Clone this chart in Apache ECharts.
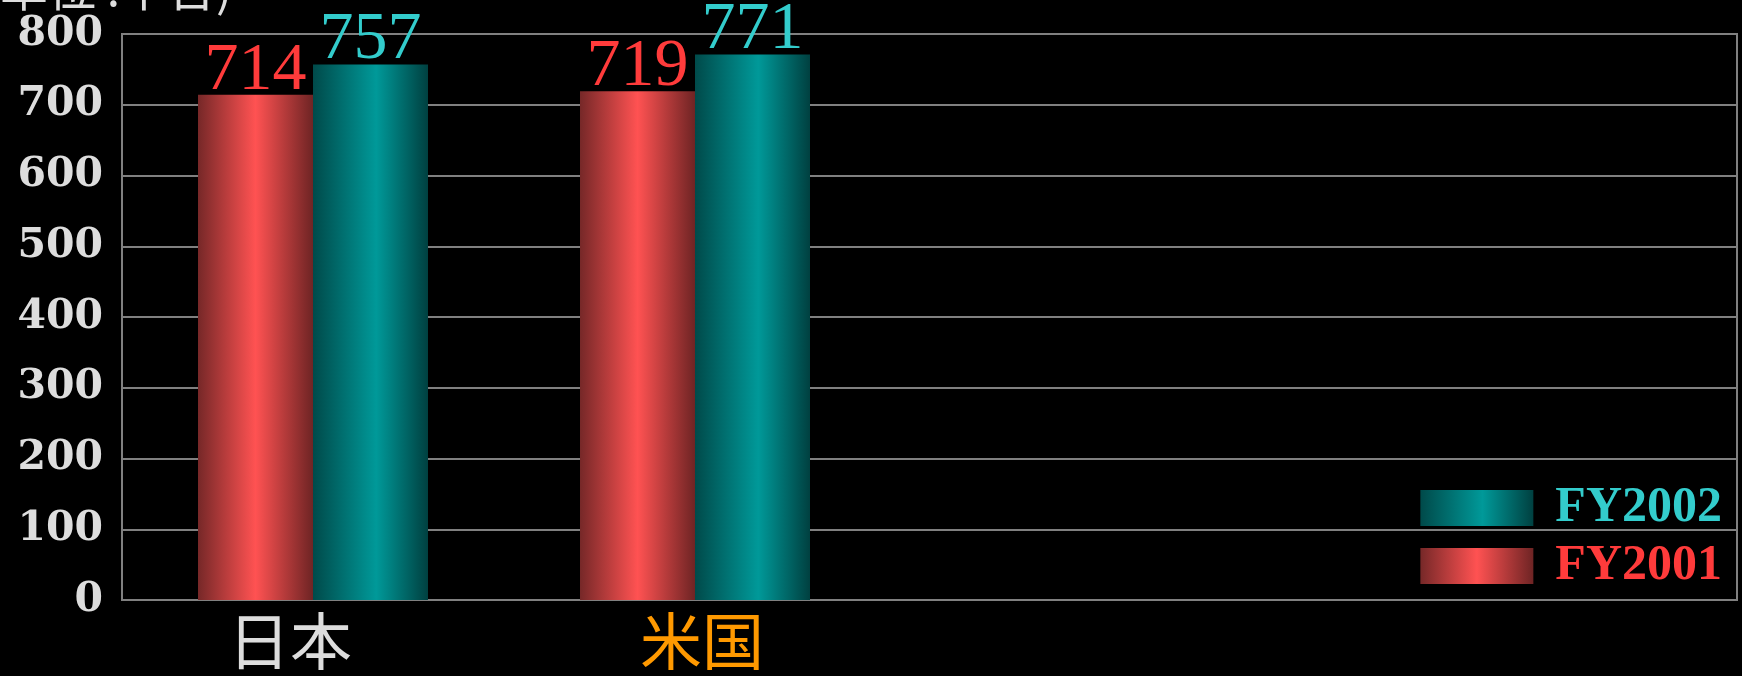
<!DOCTYPE html>
<html>
<head>
<meta charset="utf-8">
<script src="https://cdn.jsdelivr.net/npm/echarts@6/dist/echarts.min.js"></script>
<style>
  html, body { margin: 0; padding: 0; background: #000; }
  #chart { width: 1742px; height: 676px; }
</style>
</head>
<body>
<div id="chart"></div>
<script>
  // data
  const categories = ['日本', '米国', '', ''];
  const categoryColors = ['#dddddd', '#ff9900', '#dddddd', '#dddddd'];
  const categoryShift = [[0, 46, 0, 0], [0, 0, 0, 14], 0, 0]; // nudge labels like the original
  const fy2001 = [714, 719];
  const fy2002 = [757, 771];
  const seriesNames = ['FY2001', 'FY2002'];
  const yTicks = [0, 100, 200, 300, 400, 500, 600, 700, 800];

  const redGrad = new echarts.graphic.LinearGradient(0, 0, 1, 0, [
    { offset: 0, color: '#762828' },
    { offset: 0.5, color: '#ff5252' },
    { offset: 1, color: '#6e2424' }
  ]);
  const tealGrad = new echarts.graphic.LinearGradient(0, 0, 1, 0, [
    { offset: 0, color: '#004a4a' },
    { offset: 0.55, color: '#009999' },
    { offset: 1, color: '#004040' }
  ]);

  const chart = echarts.init(document.getElementById('chart'));

  const valueLabel = (color) => ({
    show: true,
    position: 'top',
    distance: -10,
    color: color,
    fontSize: 68,
    fontFamily: 'Liberation Serif'
  });

  const option = {
    backgroundColor: '#000',
    animation: false,
    graphic: [{
      type: 'text',
      left: 0,
      top: -36,
      style: {
        text: '単位 :千台)',
        fill: '#dddddd',
        font: '48px "Noto Sans CJK JP"'
      }
    }],
    legend: {
      orient: 'vertical',
      right: 15,
      top: 478,
      itemWidth: 113,
      itemHeight: 36,
      itemGap: 8,
      icon: 'rect',
      data: ['FY2002', 'FY2001'],
      formatter: (name) => name === 'FY2002' ? '{t|' + name + '}' : '{r|' + name + '}',
      textStyle: {
        padding: [0, 0, 0, 17],
        rich: {
          t: { color: '#33cccc', fontSize: 50, lineHeight: 54, fontFamily: 'Liberation Serif', fontWeight: 'bold' },
          r: { color: '#ff3b3b', fontSize: 50, lineHeight: 54, fontFamily: 'Liberation Serif', fontWeight: 'bold' }
        }
      }
    },
    grid: [
      { left: 122, right: 5, top: 34, bottom: 76, show: true, borderColor: '#808080', borderWidth: 2 },
      { left: 122, width: 1528, top: 34, bottom: 76 }
    ],
    xAxis: [
      { gridIndex: 0, type: 'value', show: false, min: 0, max: 1 },
      {
        gridIndex: 1,
        type: 'category',
        data: categories.map((c, i) => ({
          value: c,
          textStyle: { color: categoryColors[i], padding: categoryShift[i] }
        })),
        axisLine: { show: false },
        axisTick: { show: false },
        axisLabel: {
          fontSize: 62,
          fontFamily: 'Noto Sans CJK JP',
          margin: 10
        }
      }
    ],
    yAxis: [
      {
        gridIndex: 0,
        type: 'value',
        min: yTicks[0],
        max: yTicks[yTicks.length - 1],
        interval: 100,
        axisLine: { show: true, lineStyle: { color: '#808080', width: 2 } },
        axisTick: { show: false },
        splitLine: { lineStyle: { color: '#808080', width: 2 } },
        axisLabel: {
          color: '#dddddd',
          fontSize: 41,
          fontWeight: 'bold',
          fontFamily: 'DejaVu Serif',
          margin: 19
        }
      },
      { gridIndex: 1, type: 'value', min: 0, max: 800, show: false, splitLine: { show: false } }
    ],
    series: [
      {
        name: seriesNames[0],
        type: 'bar',
        xAxisIndex: 1,
        yAxisIndex: 1,
        data: fy2001,
        barWidth: 115,
        barGap: '0%',
        itemStyle: { color: redGrad },
        label: valueLabel('#ff3b3b')
      },
      {
        name: seriesNames[1],
        type: 'bar',
        xAxisIndex: 1,
        yAxisIndex: 1,
        data: fy2002,
        barWidth: 115,
        barGap: '0%',
        itemStyle: { color: tealGrad },
        label: valueLabel('#33cccc')
      }
    ]
  };

  chart.setOption(option);
</script>
</body>
</html>
